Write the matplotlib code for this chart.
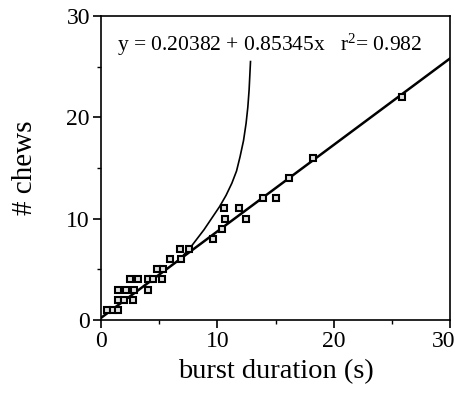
import matplotlib
matplotlib.use("Agg")
import matplotlib.pyplot as plt
import matplotlib.transforms as mtransforms
import numpy as np

plt.rcParams["font.family"] = ["Liberation Serif", "DejaVu Serif"]
plt.rcParams["mathtext.fontset"] = "custom"
plt.rcParams["mathtext.rm"] = "Liberation Serif"
plt.rcParams["mathtext.default"] = "regular"

# Data
burst_duration = [0.5, 1.0, 1.5, 1.5, 2.0, 2.75, 1.5, 2.15, 2.85, 4.0,
                  2.5, 3.2, 4.0, 4.5, 5.2, 4.8, 5.3, 5.9, 6.9, 6.8, 7.6,
                  9.6, 10.4, 10.7, 10.6, 11.9, 12.5, 13.9, 15.0, 16.2,
                  18.2, 25.9]
chews = [1, 1, 1, 2, 2, 2, 3, 3, 3, 3,
         4, 4, 4, 4, 4, 5, 5, 6, 6, 7, 7,
         8, 9, 10, 11, 11, 10, 12, 12, 14,
         16, 22]

# regression line
intercept = 0.20382
slope = 0.85345
r2 = 0.982

# curved line
curve_x = [6.6, 7.65, 8.85, 10.2, 10.75, 11.25, 11.65, 11.95, 12.25,
           12.47, 12.62, 12.73, 12.85]
curve_y = [5.8, 7.1, 8.9, 11.2, 12.3, 13.5, 14.7, 16.1, 17.7,
           19.4, 21.0, 22.7, 25.5]

fig = plt.figure(figsize=(4.56, 3.95), dpi=100)
ax = fig.add_axes([0.2215, 0.19, 0.7654, 0.7696])

xs = np.array([0, 30])
ax.plot(xs, intercept + slope * xs, color="black", lw=1.8, zorder=2)
ax.plot(curve_x, curve_y, color="black", lw=1.2, zorder=2)
ax.plot(burst_duration, chews, linestyle="none", marker="s", markersize=4.6,
        mfc="#e0e0e0", mec="black", mew=1.5, zorder=3)

ax.set_xlim(0, 30)
ax.set_ylim(0, 30)
ax.set_xticks([0, 10, 20, 30])
ax.set_yticks([0, 10, 20, 30])
ax.set_xticks([5, 15, 25], minor=True)
ax.set_yticks([5, 15, 25], minor=True)
ax.tick_params(which="major", direction="out", length=6, width=1.2,
               labelsize=17, pad=2)
ax.tick_params(which="minor", direction="out", length=3, width=1)
for s in ax.spines.values():
    s.set_linewidth(1.2)

# last x tick label sits a bit left so it stays inside the figure
last = ax.get_xticklabels()[-1]
last.set_transform(last.get_transform() +
                   mtransforms.ScaledTranslation(-6 / 100, 0, fig.dpi_scale_trans))

ax.set_xlabel("burst duration (s)", fontsize=20.5, labelpad=5)
ax.set_ylabel("# chews", fontsize=21, labelpad=20)

ax.text(0.046, 0.905,
        "y = %.5f + %.5fx   r$^{2}$= %.3f" % (intercept, slope, r2),
        transform=ax.transAxes, fontsize=15.5, va="center", ha="left")

fig.savefig("out.png", dpi=100)
